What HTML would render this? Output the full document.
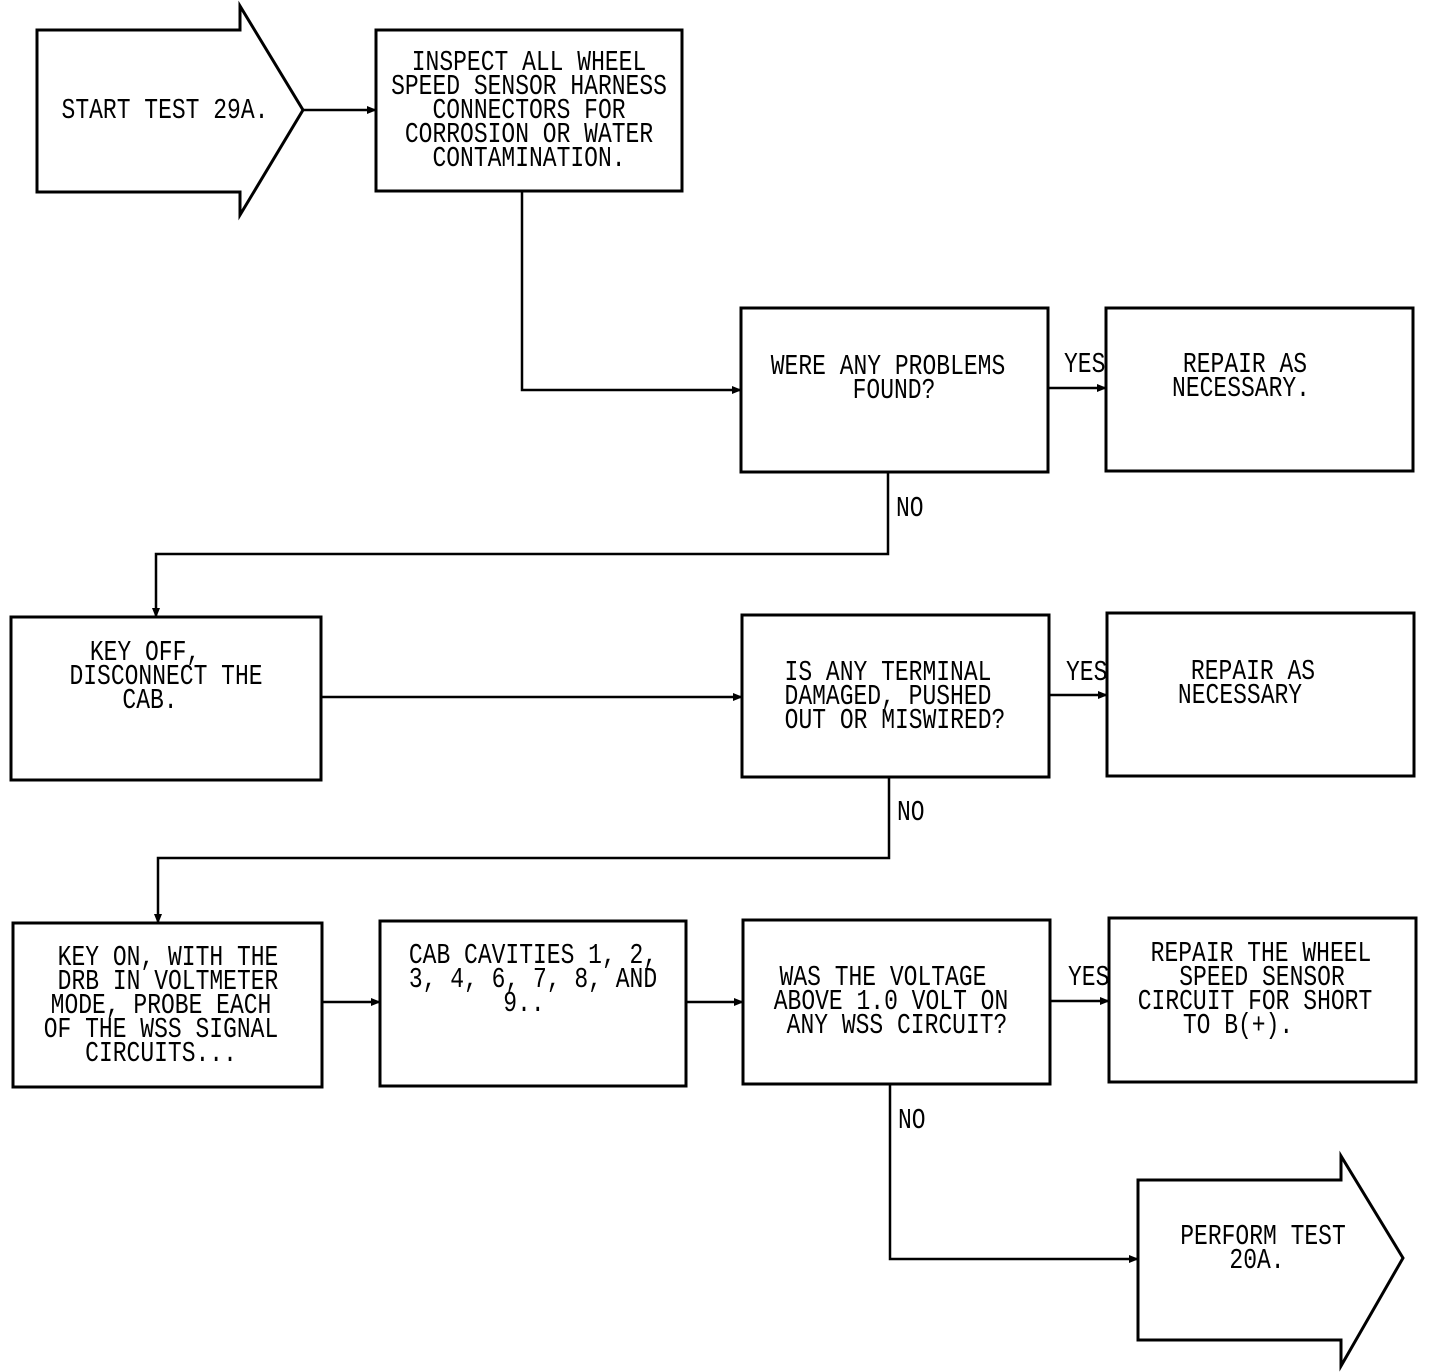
<!DOCTYPE html>
<html><head><style>
html,body{margin:0;padding:0;background:#fff;}
svg{display:block}
text{font-family:"Liberation Mono",monospace;font-size:23px;fill:#000;}
</style></head><body>
<svg width="1440" height="1372" viewBox="0 0 1440 1372" xmlns="http://www.w3.org/2000/svg">
<defs>
<marker id="ah" markerWidth="10" markerHeight="8" refX="9" refY="4" orient="auto" markerUnits="userSpaceOnUse">
<path d="M0,0 L10,4 L0,8 Z" fill="#000"/>
</marker>
</defs>
<g fill="none" stroke="#000" stroke-width="3">
<!-- start arrow -->
<path d="M37,30 L240,30 L240,6 L303,110 L240,215 L240,192 L37,192 Z"/>
<!-- end arrow -->
<path d="M1138,1180 L1341,1180 L1341,1156 L1403,1258 L1341,1366 L1341,1340 L1138,1340 Z"/>
<rect x="376" y="30" width="306" height="161"/>
<rect x="741" y="308" width="307" height="164"/>
<rect x="1106" y="308" width="307" height="163"/>
<rect x="11" y="617" width="310" height="163"/>
<rect x="742" y="615" width="307" height="162"/>
<rect x="1107" y="613" width="307" height="163"/>
<rect x="13" y="923" width="309" height="164"/>
<rect x="380" y="921" width="306" height="165"/>
<rect x="743" y="920" width="307" height="164"/>
<rect x="1109" y="918" width="307" height="164"/>
</g>
<g fill="none" stroke="#000" stroke-width="2.5" marker-end="url(#ah)">
<path d="M303,110 L376,110"/>
<path d="M522,191 L522,390 L741,390"/>
<path d="M1048,388 L1106,388"/>
<path d="M888,472 L888,554 L156,554 L156,617"/>
<path d="M321,697 L742,697"/>
<path d="M1049,695 L1107,695"/>
<path d="M889,777 L889,858 L158,858 L158,923"/>
<path d="M322,1002 L380,1002"/>
<path d="M686,1002 L743,1002"/>
<path d="M1050,1001 L1109,1001"/>
<path d="M890,1084 L890,1259 L1138,1259"/>
</g>
<g text-anchor="middle">
<text transform="translate(165,118) scale(1,1.25)">START TEST 29A.</text>
<text transform="translate(529,70) scale(1,1.25)">INSPECT ALL WHEEL</text>
<text transform="translate(529,94) scale(1,1.25)">SPEED SENSOR HARNESS</text>
<text transform="translate(529,118) scale(1,1.25)">CONNECTORS FOR</text>
<text transform="translate(529,142) scale(1,1.25)">CORROSION OR WATER</text>
<text transform="translate(529,166) scale(1,1.25)">CONTAMINATION.</text>
<text transform="translate(888,374) scale(1,1.25)">WERE ANY PROBLEMS</text>
<text transform="translate(894,398) scale(1,1.25)">FOUND?</text>
<text transform="translate(1245,372) scale(1,1.25)">REPAIR AS</text>
<text transform="translate(1241,396) scale(1,1.25)">NECESSARY.</text>
<text transform="translate(145,660) scale(1,1.25)">KEY OFF,</text>
<text transform="translate(166,684) scale(1,1.25)">DISCONNECT THE</text>
<text transform="translate(150,708) scale(1,1.25)">CAB.</text>
<text transform="translate(888,680) scale(1,1.25)">IS ANY TERMINAL</text>
<text transform="translate(888,704) scale(1,1.25)">DAMAGED, PUSHED</text>
<text transform="translate(895,728) scale(1,1.25)">OUT OR MISWIRED?</text>
<text transform="translate(1253,679) scale(1,1.25)">REPAIR AS</text>
<text transform="translate(1240,703) scale(1,1.25)">NECESSARY</text>
<text transform="translate(168,965) scale(1,1.25)">KEY ON, WITH THE</text>
<text transform="translate(168,989) scale(1,1.25)">DRB IN VOLTMETER</text>
<text transform="translate(161,1013) scale(1,1.25)">MODE, PROBE EACH</text>
<text transform="translate(161,1037) scale(1,1.25)">OF THE WSS SIGNAL</text>
<text transform="translate(161,1061) scale(1,1.25)">CIRCUITS...</text>
<text transform="translate(533,963) scale(1,1.25)">CAB CAVITIES 1, 2,</text>
<text transform="translate(533,987) scale(1,1.25)">3, 4, 6, 7, 8, AND</text>
<text transform="translate(524,1011) scale(1,1.25)">9..</text>
<text transform="translate(883,985) scale(1,1.25)">WAS THE VOLTAGE</text>
<text transform="translate(891,1009) scale(1,1.25)">ABOVE 1.0 VOLT ON</text>
<text transform="translate(897,1033) scale(1,1.25)">ANY WSS CIRCUIT?</text>
<text transform="translate(1261,961) scale(1,1.25)">REPAIR THE WHEEL</text>
<text transform="translate(1262,985) scale(1,1.25)">SPEED SENSOR</text>
<text transform="translate(1255,1009) scale(1,1.25)">CIRCUIT FOR SHORT</text>
<text transform="translate(1238,1033) scale(1,1.25)">TO B(+).</text>
<text transform="translate(1263,1244) scale(1,1.25)">PERFORM TEST</text>
<text transform="translate(1257,1268) scale(1,1.25)">20A.</text>
</g>
<g>
<text transform="translate(1064,372) scale(1,1.25)">YES</text>
<text transform="translate(1066,680) scale(1,1.25)">YES</text>
<text transform="translate(1068,985) scale(1,1.25)">YES</text>
<text transform="translate(896,516) scale(1,1.25)">NO</text>
<text transform="translate(897,820) scale(1,1.25)">NO</text>
<text transform="translate(898,1128) scale(1,1.25)">NO</text>
</g>
</svg>
</body></html>
